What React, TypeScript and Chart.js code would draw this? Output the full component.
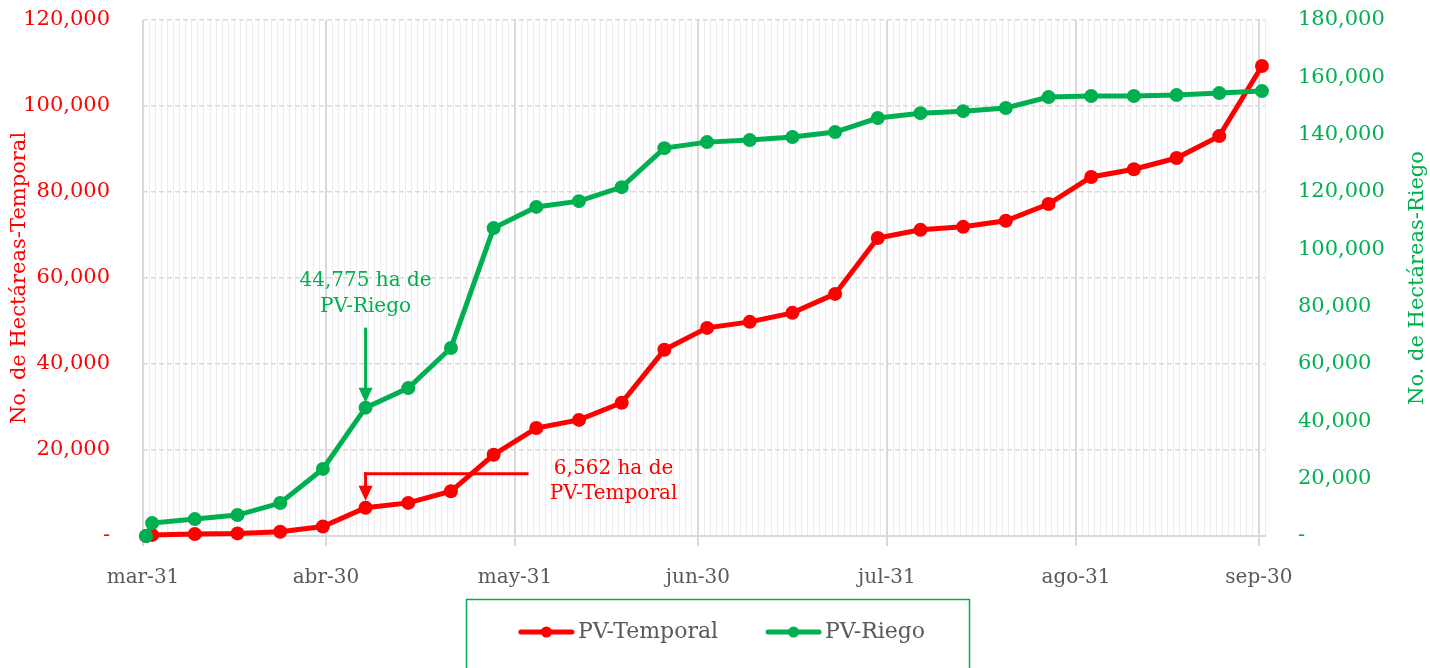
import React, { useEffect, useRef } from 'react';
import { Chart, registerables } from 'chart.js';

Chart.register(...registerables);

// ---------- data ----------
const startDate = '2023-03-31';
const pointDates = [
  '2023-03-31', '2023-04-01', '2023-04-08', '2023-04-15', '2023-04-22', '2023-04-29',
  '2023-05-06', '2023-05-13', '2023-05-20', '2023-05-27', '2023-06-03', '2023-06-10',
  '2023-06-17', '2023-06-24', '2023-07-01', '2023-07-08', '2023-07-15', '2023-07-22',
  '2023-07-29', '2023-08-05', '2023-08-12', '2023-08-19', '2023-08-26', '2023-09-02',
  '2023-09-09', '2023-09-16', '2023-09-23', '2023-09-30',
];
const pvTemporal = [
  0, 250, 450, 600, 1000, 2200, 6562, 7700, 10400, 18900, 25100, 27000, 31000, 43300,
  48400, 49800, 51900, 56300, 69300, 71200, 71900, 73300, 77200, 83500, 85300, 87900,
  93000, 109300,
];
const pvRiego = [
  0, 4500, 5900, 7300, 11500, 23400, 44775, 51600, 65600, 107400, 114800, 116800, 121700,
  135300, 137400, 138100, 139200, 140900, 145800, 147500, 148200, 149300, 153100, 153500,
  153500, 153800, 154500, 155200,
];
const monthTickDates = ['2023-03-31', '2023-04-30', '2023-05-31', '2023-06-30', '2023-07-31', '2023-08-31', '2023-09-30'];
const monthTickLabels = ['mar-31', 'abr-30', 'may-31', 'jun-30', 'jul-31', 'ago-31', 'sep-30'];
const axisEndDate = '2023-10-01';
const seriesNames = ['PV-Temporal', 'PV-Riego'];
const leftAxisTitle = 'No. de Hectáreas-Temporal';
const rightAxisTitle = 'No. de Hectáreas-Riego';
const annotationDate = '2023-05-06';
const riegoNote = ['44,775 ha de', 'PV-Riego'];
const temporalNote = ['6,562 ha de', 'PV-Temporal'];

// ---------- helpers ----------
const RED = '#FF0000';
const GREEN = '#00B050';
const GRAY_TEXT = '#595959';
const FONT = '"DejaVu Serif", serif';

const dayOf = (d: string) =>
  Math.round((Date.parse(d + 'T00:00:00Z') - Date.parse(startDate + 'T00:00:00Z')) / 86400000);
const pointX = (d: string) => dayOf(d) + 0.5;
const majorDays = monthTickDates.map(dayOf);
const fmt = (v: number) => (v === 0 ? '-' : Math.round(v).toLocaleString('en-US'));

function drawArrowDown(ctx: CanvasRenderingContext2D, x: number, yFrom: number, yHeadTop: number, yTip: number, color: string) {
  ctx.strokeStyle = color;
  ctx.fillStyle = color;
  ctx.lineWidth = 3;
  ctx.beginPath();
  ctx.moveTo(x, yFrom);
  ctx.lineTo(x, yHeadTop + 1);
  ctx.stroke();
  ctx.beginPath();
  ctx.moveTo(x - 7, yHeadTop);
  ctx.lineTo(x + 7, yHeadTop);
  ctx.lineTo(x, yTip);
  ctx.closePath();
  ctx.fill();
}

const extrasPlugin = {
  id: 'extras',
  afterDraw(chart: any) {
    const ctx: CanvasRenderingContext2D = chart.ctx;
    const xs = chart.scales.x;
    const yl = chart.scales.yLeft;
    const yr = chart.scales.yRight;
    const area = chart.chartArea;
    const idx = pointDates.indexOf(annotationDate);
    ctx.save();
    ctx.textAlign = 'center';
    ctx.textBaseline = 'middle';

    // axis titles
    ctx.font = `21px ${FONT}`;
    const midY = (area.top + area.bottom) / 2;
    ctx.save();
    ctx.translate(20, midY);
    ctx.rotate(-Math.PI / 2);
    ctx.fillStyle = RED;
    ctx.fillText(leftAxisTitle, 0, 0);
    ctx.restore();
    ctx.save();
    ctx.translate(chart.width - 12, midY);
    ctx.rotate(-Math.PI / 2);
    ctx.fillStyle = GREEN;
    ctx.fillText(rightAxisTitle, 0, 0);
    ctx.restore();

    // green annotation
    ctx.font = `20px ${FONT}`;
    const gx = xs.getPixelForValue(pointX(annotationDate));
    const gy = yr.getPixelForValue(pvRiego[idx]);
    ctx.fillStyle = GREEN;
    ctx.fillText(riegoNote[0], gx, gy - 127);
    ctx.fillText(riegoNote[1], gx, gy - 101);
    drawArrowDown(ctx, gx, gy - 80, gy - 20, gy - 5, GREEN);

    // red annotation
    const rx = xs.getPixelForValue(pointX(annotationDate));
    const ry = yl.getPixelForValue(pvTemporal[idx]);
    ctx.strokeStyle = RED;
    ctx.lineWidth = 3;
    ctx.beginPath();
    ctx.moveTo(rx + 163, ry - 34);
    ctx.lineTo(rx - 1.5, ry - 34);
    ctx.stroke();
    drawArrowDown(ctx, rx, ry - 35.5, ry - 22, ry - 7, RED);
    ctx.fillStyle = RED;
    ctx.fillText(temporalNote[0], rx + 248, ry - 39);
    ctx.fillText(temporalNote[1], rx + 248, ry - 14);

    // legend
    ctx.font = `22px ${FONT}`;
    const colors = [RED, GREEN];
    const lineLen = 55;
    const gapText = 4;
    const gapItems = 48;
    const widths = seriesNames.map((n) => ctx.measureText(n).width);
    const total = widths.reduce((a, w) => a + lineLen + gapText + w, 0) + gapItems * (seriesNames.length - 1);
    let lx = chart.width / 2 + 7 - total / 2;
    const ly = 632;
    ctx.strokeStyle = GREEN;
    ctx.lineWidth = 1.5;
    ctx.strokeRect(466.5, 599.5, 503, 100);
    seriesNames.forEach((name, i) => {
      ctx.strokeStyle = colors[i];
      ctx.fillStyle = colors[i];
      ctx.lineWidth = 5;
      ctx.lineCap = 'round';
      ctx.beginPath();
      ctx.moveTo(lx + 2, ly);
      ctx.lineTo(lx + lineLen - 2, ly);
      ctx.stroke();
      ctx.beginPath();
      ctx.arc(lx + lineLen / 2, ly, 5.5, 0, Math.PI * 2);
      ctx.fill();
      ctx.fillStyle = GRAY_TEXT;
      ctx.textAlign = 'left';
      ctx.fillText(name, lx + lineLen + gapText, ly);
      lx += lineLen + gapText + widths[i] + gapItems;
    });
    ctx.restore();
  },
};

export default function App() {
  const canvasRef = useRef<HTMLCanvasElement | null>(null);

  useEffect(() => {
    const canvas = canvasRef.current;
    if (!canvas) return;
    const chart = new Chart(canvas, {
      type: 'line',
      data: {
        datasets: [
          {
            label: seriesNames[1],
            data: pointDates.map((d, i) => ({ x: pointX(d), y: pvRiego[i] })),
            yAxisID: 'yRight',
            borderColor: GREEN,
            backgroundColor: GREEN,
            pointBackgroundColor: GREEN,
            pointBorderWidth: 0,
            pointRadius: 7,
            borderWidth: 5,
            tension: 0,
            clip: false as any,
          },
          {
            label: seriesNames[0],
            data: pointDates.map((d, i) => ({ x: pointX(d), y: pvTemporal[i] })),
            yAxisID: 'yLeft',
            borderColor: RED,
            backgroundColor: RED,
            pointBackgroundColor: RED,
            pointBorderWidth: 0,
            pointRadius: 7,
            borderWidth: 5,
            tension: 0,
            clip: false as any,
          },
        ],
      },
      options: {
        animation: false,
        responsive: false,
        maintainAspectRatio: false,
        layout: { padding: { top: 20, left: 0, right: 0, bottom: 0 } },
        plugins: { legend: { display: false }, tooltip: { enabled: false } },
        scales: {
          x: {
            type: 'linear',
            min: 0,
            max: dayOf(axisEndDate),
            afterBuildTicks: (scale: any) => {
              const n = dayOf(axisEndDate);
              scale.ticks = Array.from({ length: n + 1 }, (_, i) => ({ value: i }));
            },
            afterFit: (scale: any) => {
              scale.height = 132;
            },
            ticks: {
              autoSkip: false,
              maxRotation: 0,
              minRotation: 0,
              padding: 20,
              color: GRAY_TEXT,
              font: { family: FONT, size: 20 },
              callback: (v: any) => {
                const k = majorDays.indexOf(Number(v));
                return k >= 0 ? monthTickLabels[k] : '';
              },
            },
            grid: {
              color: (c: any) => (majorDays.includes(c.tick?.value) ? '#d9d9d9' : '#ececec'),
              lineWidth: (c: any) => (majorDays.includes(c.tick?.value) ? 2 : 1),
              tickColor: (c: any) => (majorDays.includes(c.tick?.value) ? '#d9d9d9' : 'rgba(0,0,0,0)'),
              tickLength: 10,
            },
            border: { display: true, color: '#d9d9d9', width: 2 },
          },
          yLeft: {
            type: 'linear',
            position: 'left',
            min: 0,
            max: 120000,
            afterFit: (scale: any) => {
              scale.width = 143;
            },
            ticks: {
              stepSize: 20000,
              padding: 0,
              color: RED,
              font: { family: FONT, size: 21 },
              callback: (v: any) => fmt(Number(v)),
            },
            grid: { color: '#d9d9d9', lineWidth: 1.5, drawTicks: true, tickLength: 33, tickColor: 'rgba(0,0,0,0)' },
            border: { display: false, dash: [5, 3] },
          },
          yRight: {
            type: 'linear',
            position: 'right',
            min: 0,
            max: 180000,
            afterFit: (scale: any) => {
              scale.width = 165;
            },
            ticks: {
              stepSize: 20000,
              padding: 0,
              color: GREEN,
              font: { family: FONT, size: 21 },
              callback: (v: any) => fmt(Number(v)),
            },
            grid: { drawOnChartArea: false, drawTicks: true, tickLength: 33, tickColor: 'rgba(0,0,0,0)' },
            border: { display: false },
          },
        },
      } as any,
      plugins: [extrasPlugin],
    });
    return () => chart.destroy();
  }, []);

  return (
    <div style={{ position: 'absolute', left: 0, top: 0, width: 1430, height: 668, background: '#fff' }}>
      <canvas ref={canvasRef} width={1430} height={668} style={{ display: 'block', width: 1430, height: 668 }} />
    </div>
  );
}
